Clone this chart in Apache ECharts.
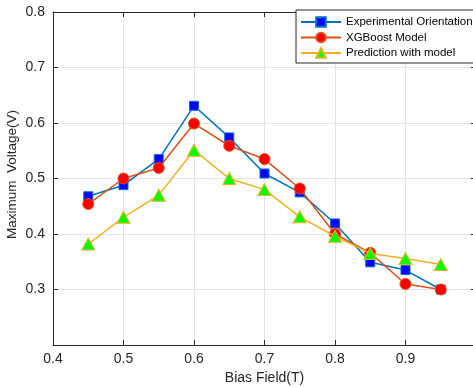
<!DOCTYPE html>
<html>
<head>
<meta charset="utf-8">
<script src="https://cdn.jsdelivr.net/npm/echarts@6/dist/echarts.min.js"></script>
<style>
  html, body { margin: 0; padding: 0; background: #fff; }
  #chart { width: 473px; height: 387px; }
</style>
</head>
<body>
<div id="chart"></div>
<script>
// bias field values (T)
const biasField = [0.45, 0.5, 0.55, 0.6, 0.65, 0.7, 0.75, 0.8, 0.85, 0.9, 0.95];

// maximum voltage (V) per series
const experimental = [0.468, 0.488, 0.535, 0.631, 0.574, 0.509, 0.475, 0.419, 0.349, 0.335, 0.300];
const xgboost      = [0.454, 0.500, 0.519, 0.599, 0.559, 0.535, 0.482, 0.400, 0.366, 0.310, 0.300];
const prediction   = [0.382, 0.430, 0.470, 0.551, 0.500, 0.480, 0.431, 0.396, 0.365, 0.356, 0.345];

const seriesNames = ['Experimental Orientation', 'XGBoost Model', 'Prediction with model'];

const font = 'Liberation Sans, Arial, Helvetica, sans-serif';
const axisColor = '#262626';
const gridColor = '#e3e3e3';

const chart = echarts.init(document.getElementById('chart'), null, { renderer: 'canvas' });

const pairs = arr => biasField.map((x, i) => [x, arr[i]]);

const fmtX = v => (Math.abs(v - 1) < 1e-9 ? '1' : v.toFixed(1));
const fmtY = v => (Math.abs(v - 0.2) < 1e-9 ? '' : v.toFixed(1));

const option = {
  animation: false,
  backgroundColor: '#fff',
  // the figure is cropped on the right: x = 1.0 sits just past the edge
  grid: { left: 53, top: 12, width: 423, height: 333, containLabel: false, outerBoundsMode: 'none' },
  xAxis: [
    {
      type: 'value', min: 0.4, max: 1.0, interval: 0.1,
      name: 'Bias Field(T)', nameLocation: 'middle', nameGap: 17,
      nameTextStyle: { fontFamily: font, fontSize: 14, color: axisColor },
      axisLine: { show: true, onZero: false, lineStyle: { color: axisColor, width: 1 } },
      axisTick: { show: true, inside: true, length: 5, lineStyle: { color: axisColor } },
      axisLabel: { formatter: fmtX, margin: 7, fontFamily: font, fontSize: 14, color: axisColor },
      splitLine: { show: true, lineStyle: { color: gridColor, width: 1 } }
    },
    {
      type: 'value', position: 'top', min: 0.4, max: 1.0, interval: 0.1,
      axisLine: { show: true, onZero: false, lineStyle: { color: axisColor, width: 1 } },
      axisTick: { show: true, inside: true, length: 5, lineStyle: { color: axisColor } },
      axisLabel: { show: false },
      splitLine: { show: false }
    }
  ],
  yAxis: [
    {
      type: 'value', min: 0.2, max: 0.8, interval: 0.1,
      axisLine: { show: true, onZero: false, lineStyle: { color: axisColor, width: 1 } },
      axisTick: { show: true, inside: true, length: 5, lineStyle: { color: axisColor } },
      axisLabel: { formatter: fmtY, margin: 8, fontFamily: font, fontSize: 14, color: axisColor },
      splitLine: { show: true, lineStyle: { color: gridColor, width: 1 } }
    },
    {
      type: 'value', position: 'right', min: 0.2, max: 0.8, interval: 0.1,
      axisLine: { show: true, onZero: false, lineStyle: { color: axisColor, width: 1 } },
      axisTick: { show: true, inside: true, length: 5, lineStyle: { color: axisColor } },
      axisLabel: { show: false },
      splitLine: { show: false }
    }
  ],
  legend: {
    left: 296, top: 10,
    orient: 'vertical',
    data: seriesNames,
    itemWidth: 40, itemHeight: 12, itemGap: 3.5,
    padding: [6, 6, 4, 4],
    backgroundColor: '#fff',
    borderColor: '#262626', borderWidth: 1, borderRadius: 0,
    textStyle: { fontFamily: font, fontSize: 11.5, color: '#000' }
  },
  graphic: [
    {
      type: 'text', left: 5, top: 110, rotation: Math.PI / 2,
      style: { text: 'Maximum  Voltage(V)', fontFamily: font, fontSize: 13.5, fill: axisColor }
    }
  ],
  series: [
    {
      name: seriesNames[0], type: 'line', data: pairs(experimental),
      symbol: 'rect', symbolSize: 9,
      lineStyle: { color: '#0072BD', width: 1.5 },
      itemStyle: { color: '#0000FF', borderColor: '#0072BD', borderWidth: 1 },
      z: 2
    },
    {
      name: seriesNames[1], type: 'line', data: pairs(xgboost),
      symbol: 'circle', symbolSize: 11,
      lineStyle: { color: '#D95319', width: 1.5 },
      itemStyle: { color: '#FF0000', borderColor: '#D95319', borderWidth: 1 },
      z: 3
    },
    {
      name: seriesNames[2], type: 'line', data: pairs(prediction),
      symbol: 'triangle', symbolSize: [13, 12],
      lineStyle: { color: '#EDB120', width: 1.5 },
      itemStyle: { color: '#00FF00', borderColor: '#EDB120', borderWidth: 1 },
      z: 4
    }
  ]
};

chart.setOption(option);
</script>
</body>
</html>
